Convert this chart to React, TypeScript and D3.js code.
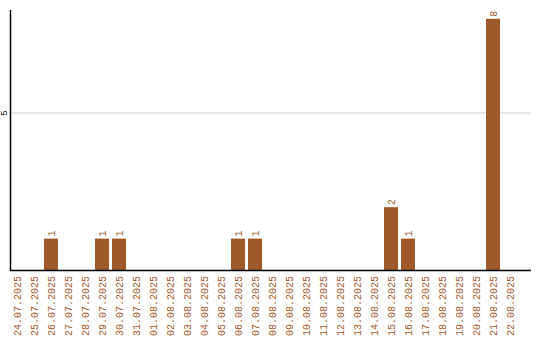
import React from "react";
import * as d3 from "d3";

const dates = [
  "24.07.2025", "25.07.2025", "26.07.2025", "27.07.2025", "28.07.2025",
  "29.07.2025", "30.07.2025", "31.07.2025", "01.08.2025", "02.08.2025",
  "03.08.2025", "04.08.2025", "05.08.2025", "06.08.2025", "07.08.2025",
  "08.08.2025", "09.08.2025", "10.08.2025", "11.08.2025", "12.08.2025",
  "13.08.2025", "14.08.2025", "15.08.2025", "16.08.2025", "17.08.2025",
  "18.08.2025", "19.08.2025", "20.08.2025", "21.08.2025", "22.08.2025",
];
const counts = [
  0, 0, 1, 0, 0, 1, 1, 0, 0, 0,
  0, 0, 0, 1, 1, 0, 0, 0, 0, 0,
  0, 0, 2, 1, 0, 0, 0, 0, 8, 0,
];
const yTicks = [5];

const W = 540;
const H = 340;
const left = 10;
const stepPx = 17;
const gapPx = 3;
const axisEnd = 531;
const top = 10;
const base = 270;
const brown = "#A0592A";
const font = "'Liberation Mono', 'DejaVu Sans Mono', monospace";

export default function App() {
  const x = d3
    .scaleBand<string>()
    .domain(dates)
    .range([left, left + dates.length * stepPx - gapPx])
    .paddingInner(gapPx / stepPx)
    .paddingOuter(0);
  const y = d3.scaleLinear().domain([0, 5]).range([base, base - 157]);
  const bw = x.bandwidth();

  return (
    <svg width={W} height={H} style={{ position: "absolute", left: 0, top: 0 }}>
      <rect width={W} height={H} fill="#fff" />
      {yTicks.map((t) => (
        <g key={t}>
          <line x1={left} x2={axisEnd} y1={y(t)} y2={y(t)} stroke="#cccccc" strokeWidth={1} />
          <text
            transform={`translate(7,${y(t)}) rotate(-90)`}
            textAnchor="middle"
            fontFamily={font}
            fontSize={9}
            fill="#000"
          >
            {t}
          </text>
        </g>
      ))}
      {dates.map((d, i) => {
        const v = counts[i];
        const bx = x(d) as number;
        const cx = bx + bw / 2;
        return (
          <g key={d}>
            {v > 0 && (
              <>
                <rect x={bx} y={y(v)} width={bw} height={base - y(v)} fill={brown} />
                <text
                  transform={`translate(${cx + 3.5},${y(v) - 2}) rotate(-90)`}
                  textAnchor="start"
                  fontFamily={font}
                  fontSize={10}
                  fill={brown}
                >
                  {v}
                </text>
              </>
            )}
            <text
              transform={`translate(${cx + 4},${H - 4}) rotate(-90)`}
              textAnchor="start"
              fontFamily={font}
              fontSize={10}
              fill={brown}
            >
              {d}
            </text>
          </g>
        );
      })}
      <line x1={left + 0.5} x2={left + 0.5} y1={top} y2={base + 1} stroke="#000" strokeWidth={1.5} />
      <line x1={left} x2={axisEnd} y1={base + 0.5} y2={base + 0.5} stroke="#000" strokeWidth={1.5} />
    </svg>
  );
}
